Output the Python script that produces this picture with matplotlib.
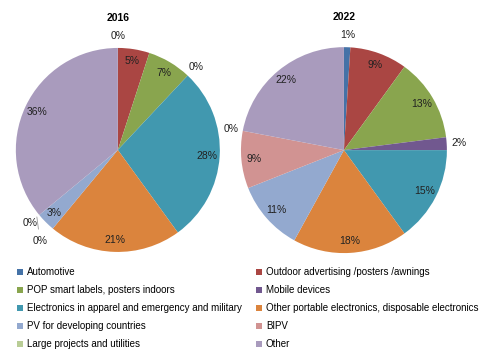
import numpy as np
import matplotlib
matplotlib.use("Agg")
import matplotlib.pyplot as plt
from matplotlib.patches import Patch

plt.rcParams['font.family'] = ['Liberation Sans', 'DejaVu Sans']

categorias = ["Automotive", "Outdoor advertising /posters /awnings",
              "POP smart labels, posters indoors", "Mobile devices",
              "Electronics in apparel and emergency and military",
              "Other portable electronics, disposable electronics",
              "PV for developing countries", "BIPV",
              "Large projects and utilities", "Other"]
valores_2016 = [0, 5, 7, 0, 28, 21, 3, 0, 0, 36]
valores_2022 = [1, 9, 13, 2, 15, 18, 11, 9, 0, 22]
cores = ["#4572A7", "#AA4643", "#89A54E", "#71588F", "#4198AF",
         "#DB843D", "#93A9CF", "#D19392", "#B9CD96", "#A99BBD"]

fig = plt.figure(figsize=(4.8, 3.6), dpi=100)


def desenha_pizza(ax, valores, titulo):
    # fatias com valor zero ficam invisiveis, mas o rotulo aparece
    ax.pie([max(v, 1e-9) for v in valores], colors=cores, startangle=90,
           counterclock=False, radius=1.0)
    ax.set_aspect('equal')
    ax.set_xlim(-1, 1)
    ax.set_ylim(-1, 1)
    ax.set_title(titulo, fontsize=7.5, fontweight='bold', pad=0, y=1.13)
    total = sum(valores)
    acumulado = 0
    usados = []
    for v in valores:
        meio = (acumulado + v / 2) / total * 2 * np.pi
        acumulado += v
        if v == 0 or v <= 2:
            d = 1.12
        else:
            d = 0.88
        x, y = d * np.sin(meio), d * np.cos(meio)
        chave = (round(x, 3), round(y, 3))
        if v == 0 and chave in usados:
            # rotulo repetido: desloca para baixo com linha guia
            ax.annotate("0%", xy=(x * 0.92, y * 0.92), xytext=(x + 0.1, y - 0.18),
                        fontsize=7.5, ha='center', va='center', color='#222222',
                        arrowprops=dict(arrowstyle='-', color='#999999', lw=0.6,
                                        shrinkA=3, shrinkB=0))
            continue
        usados.append(chave)
        ax.text(x, y, f"{v}%", fontsize=7.5, ha='center', va='center',
                color='#222222')


ax1 = fig.add_axes([0.033, 0.3, 0.425, 0.567])
desenha_pizza(ax1, valores_2016, "2016")
ax2 = fig.add_axes([0.502, 0.297, 0.429, 0.572])
desenha_pizza(ax2, valores_2022, "2022")

# legenda em duas colunas, ordem por linha
ordem = [0, 2, 4, 6, 8, 1, 3, 5, 7, 9]
handles = [Patch(facecolor=cores[i], edgecolor='none') for i in ordem]
rotulos = [categorias[i] for i in ordem]
fig.legend(handles, rotulos, ncol=2, loc='upper left', bbox_to_anchor=(0.027, 0.268),
           frameon=False, fontsize=7, handlelength=0.6, handleheight=0.6,
           handletextpad=0.4, columnspacing=1.5, labelspacing=0.82,
           borderaxespad=0)

fig.savefig("out.png", dpi=100)
